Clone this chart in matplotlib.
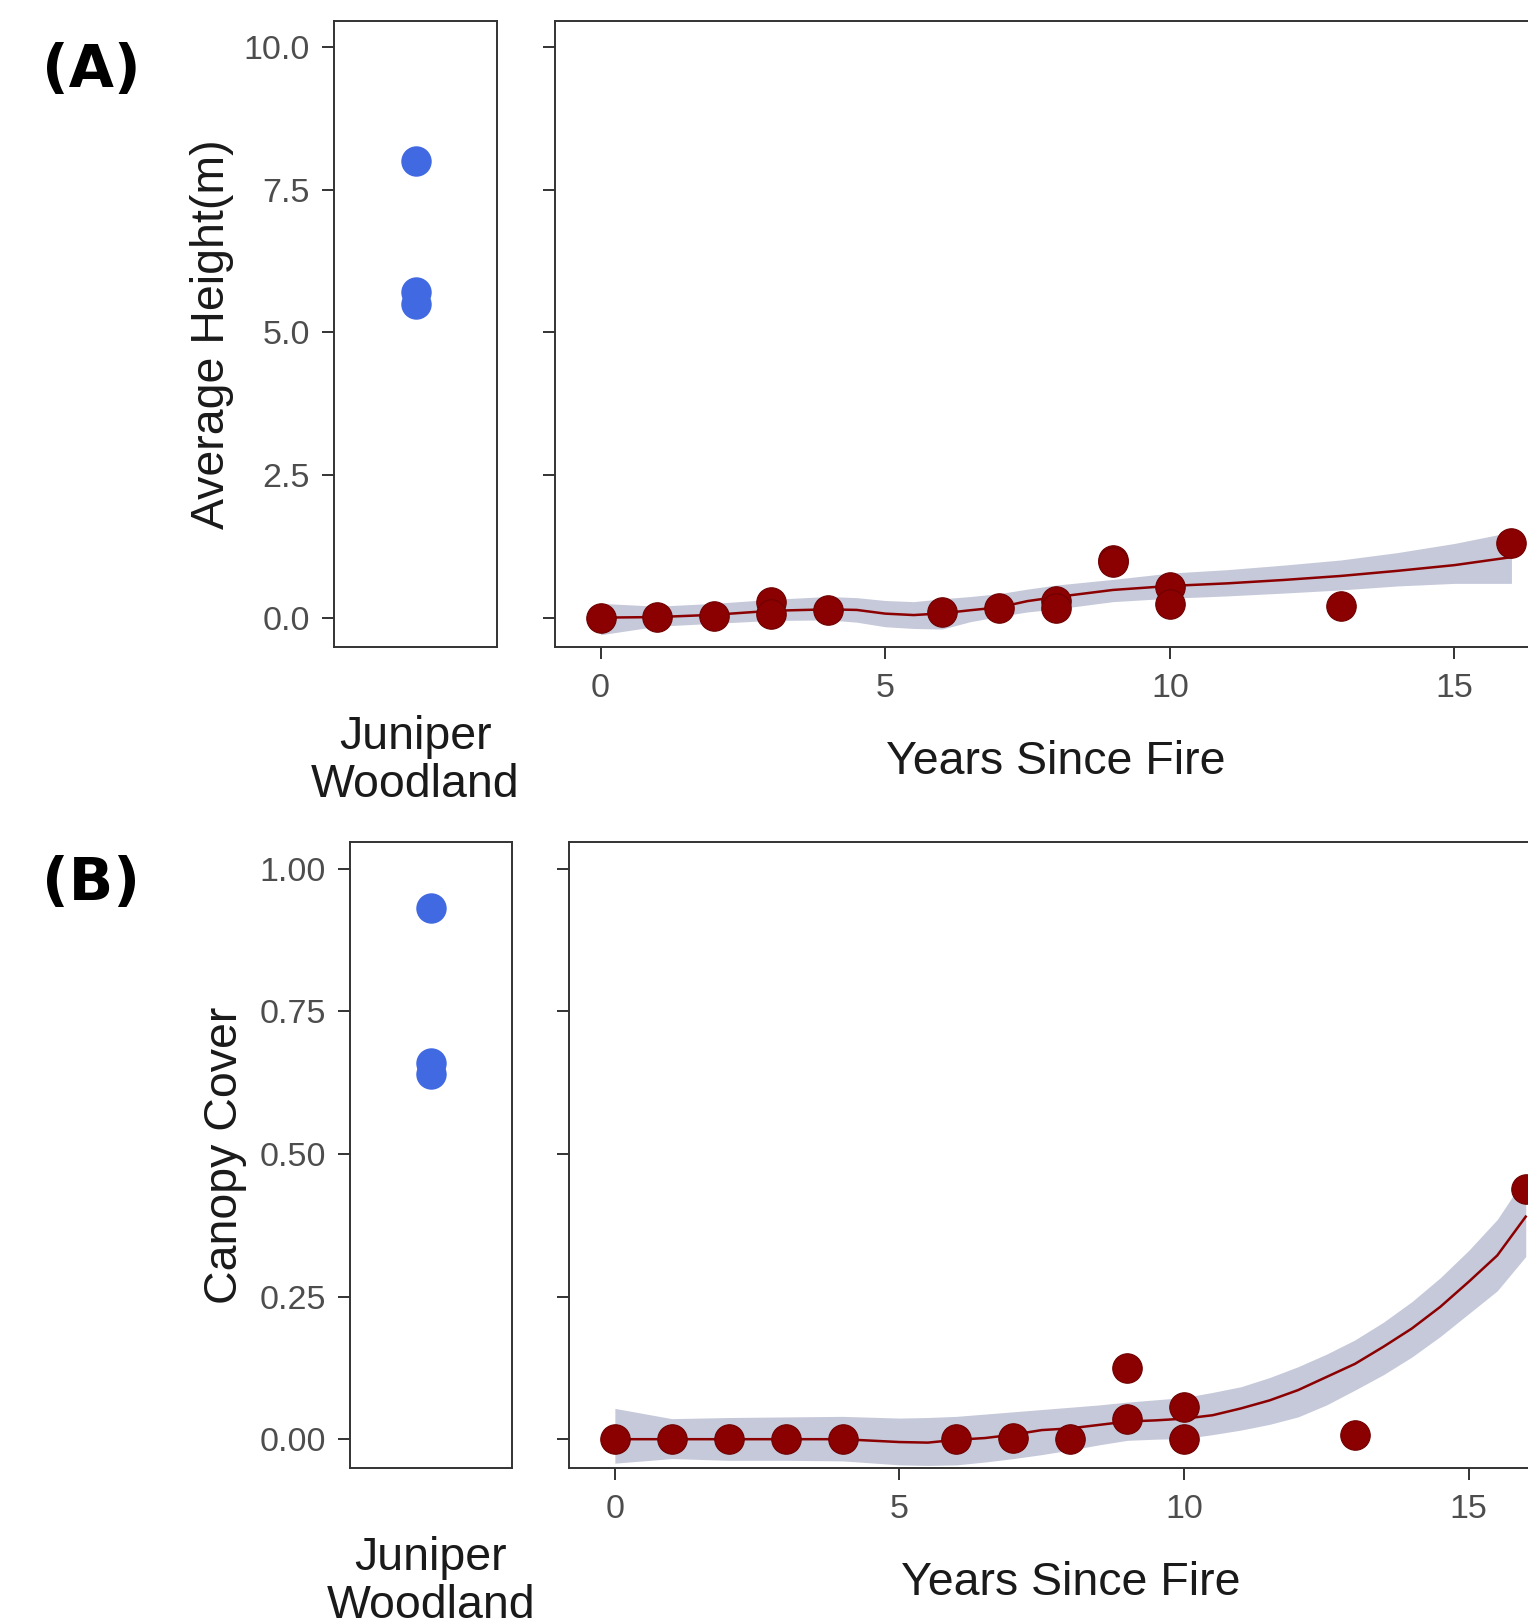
import matplotlib
matplotlib.use("Agg")
import matplotlib.pyplot as plt

W, H = 1528, 1621

# panel A: average height
a_years = [0, 1, 2, 3, 3, 4, 6, 7, 8, 8, 9, 9, 10, 10, 13, 16]
a_height = [0.0, 0.01, 0.02, 0.28, 0.07, 0.135, 0.105, 0.16, 0.29, 0.17, 1.01, 0.97, 0.54, 0.24, 0.21, 1.3]
a_fit_x = [0, 1, 2, 3, 4, 4.5, 5, 5.5, 6, 6.5, 7, 7.5, 8, 9, 10, 11, 12, 13, 14, 15, 16]
a_fit = [0.0, 0.01, 0.05, 0.12, 0.145, 0.135, 0.07, 0.045, 0.075, 0.13, 0.18, 0.29, 0.36, 0.485, 0.555, 0.6, 0.66, 0.73, 0.82, 0.92, 1.06]
a_low = [-0.3, -0.15, -0.1, -0.05, -0.04, -0.08, -0.16, -0.19, -0.2, -0.07, 0.02, 0.1, 0.15, 0.28, 0.34, 0.38, 0.43, 0.485, 0.555, 0.6, 0.6]
a_high = [0.25, 0.2, 0.25, 0.32, 0.37, 0.35, 0.3, 0.28, 0.33, 0.37, 0.42, 0.5, 0.57, 0.67, 0.78, 0.84, 0.92, 1.01, 1.14, 1.3, 1.5]
a_juniper = [8.0, 5.7, 5.5]
a_ticks = [0, 2.5, 5, 7.5, 10]

# panel B: canopy cover
b_years = [0, 1, 2, 3, 4, 6, 7, 8, 9, 9, 10, 10, 13, 16]
b_cover = [0, 0, 0, 0, 0, 0, 0.002, 0, 0.124, 0.035, 0.057, 0, 0.007, 0.439]
b_fit_x = [0, 1, 2, 3, 4, 5, 5.5, 6, 6.5, 7, 7.5, 8, 8.5, 9, 9.5, 10, 10.5, 11, 11.5, 12, 12.5, 13, 13.5, 14, 14.5, 15, 15.5, 16]
b_fit = [0, 0, 0, 0, 0, -0.005, -0.006, -0.001, 0.002, 0.008, 0.016, 0.019, 0.025, 0.031, 0.033, 0.036, 0.042,
         0.054, 0.068, 0.086, 0.109, 0.132, 0.162, 0.194, 0.232, 0.276, 0.322, 0.39]
b_low = [-0.042, -0.034, -0.037, -0.037, -0.038, -0.045, -0.046, -0.045, -0.04, -0.034, -0.027, -0.019, -0.01, -0.002,
         0.0, 0.001, 0.008, 0.016, 0.026, 0.039, 0.06, 0.086, 0.113, 0.144, 0.18, 0.22, 0.26, 0.32]
b_high = [0.054, 0.036, 0.038, 0.039, 0.04, 0.037, 0.038, 0.04, 0.044, 0.048, 0.052, 0.056, 0.06, 0.065, 0.069, 0.073,
          0.082, 0.092, 0.108, 0.127, 0.149, 0.174, 0.205, 0.241, 0.283, 0.331, 0.385, 0.46]
b_juniper = [0.93, 0.66, 0.64]
b_ticks = [0, 0.25, 0.5, 0.75, 1.0]

year_ticks = [0, 5, 10, 15]

RED = "#8B0000"
BLUE = "#4169E1"
RIBBON = "#C6C9DA"
DARK = "#333333"
TICKCOL = "#4D4D4D"
FONT = "Liberation Sans"

plt.rcParams["font.family"] = FONT


def rect(x0, x1, y0, y1):
    # pixel box -> figure fraction
    return [x0 / W, 1 - y1 / H, (x1 - x0) / W, (y1 - y0) / H]


def fxy(x, y):
    return x / W, 1 - y / H


def style(ax):
    for s in ax.spines.values():
        s.set_color(DARK)
        s.set_linewidth(1.4)
    ax.tick_params(colors=DARK, labelcolor=TICKCOL, labelsize=24.5, length=8.5, width=1.4)
    ax.tick_params(axis="y", pad=9)
    ax.tick_params(axis="x", pad=10)


fig = plt.figure(figsize=(W / 100, H / 100), dpi=100)

panels = [
    dict(top=20.7, bot=647.3, lx0=334, lx1=497, mx0=555, yt=a_ticks, fmt="{:.1f}", ylim=(-0.52, 10.46),
         juniper=a_juniper, x=a_years, y=a_height, fx=a_fit_x, f=a_fit, lo=a_low, hi=a_high,
         ylabel="Average Height(m)", ylab_x=212, tag="(A)", tag_y=70),
    dict(top=842.3, bot=1468.3, lx0=350, lx1=511.7, mx0=569.3, yt=b_ticks, fmt="{:.2f}", ylim=(-0.051, 1.046),
         juniper=b_juniper, x=b_years, y=b_cover, fx=b_fit_x, f=b_fit, lo=b_low, hi=b_high,
         ylabel="Canopy Cover", ylab_x=225, tag="(B)", tag_y=884),
]

for p in panels:
    xlim = (-0.8, 16.8)
    mwidth = 56.93 * (xlim[1] - xlim[0])
    ax_l = fig.add_axes(rect(p["lx0"], p["lx1"], p["top"], p["bot"]))
    ax_m = fig.add_axes(rect(p["mx0"], p["mx0"] + mwidth, p["top"], p["bot"]))

    # juniper woodland reference points
    ax_l.scatter([1] * len(p["juniper"]), p["juniper"], s=480, color=BLUE, linewidths=0, zorder=3)
    ax_l.set_xlim(0.4, 1.6)
    ax_l.set_ylim(*p["ylim"])
    ax_l.set_yticks(p["yt"])
    ax_l.set_yticklabels([p["fmt"].format(v) for v in p["yt"]])
    ax_l.set_xticks([1])
    ax_l.set_xticklabels(["Juniper\nWoodland"], linespacing=1.1)
    style(ax_l)
    ax_l.tick_params(axis="x", length=0, pad=49, labelsize=33.5, labelcolor="#1A1A1A")

    # burned sites with loess smooth
    ax_m.fill_between(p["fx"], p["lo"], p["hi"], color=RIBBON, linewidth=0, zorder=1)
    ax_m.plot(p["fx"], p["f"], color=RED, lw=1.8, zorder=2)
    ax_m.scatter(p["x"], p["y"], s=450, color=RED, edgecolors="#6E0000", linewidths=0.8, zorder=3)
    ax_m.set_xlim(*xlim)
    ax_m.set_ylim(*p["ylim"])
    ax_m.set_xticks(year_ticks)
    ax_m.set_yticks(p["yt"])
    ax_m.set_yticklabels([])
    style(ax_m)
    ax_m.set_xlabel("Years Since Fire", fontsize=33.5, color="#1A1A1A", labelpad=26)

    fig.text(*fxy(p["ylab_x"], (p["top"] + p["bot"]) / 2), p["ylabel"], rotation=90,
             ha="center", va="center", fontsize=33.5, color="#1A1A1A")
    fig.text(*fxy(91, p["tag_y"]), p["tag"], ha="center", va="center", fontsize=42,
             fontweight="bold", family="DejaVu Sans", color="black")

fig.savefig("out.png", dpi=100)
